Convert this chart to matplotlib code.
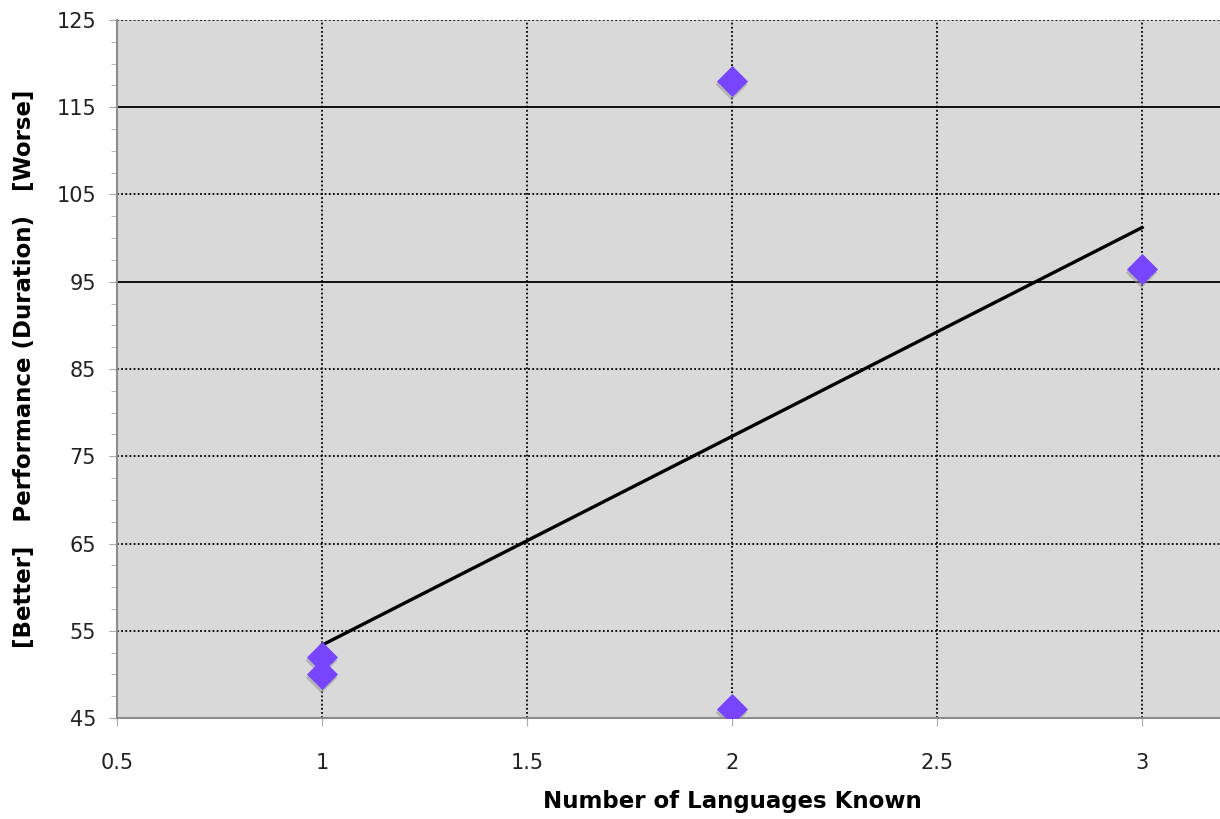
import numpy as np
import matplotlib
matplotlib.use('Agg')
import matplotlib.pyplot as plt
from matplotlib.ticker import MultipleLocator

# languages known vs. duration
langs = [1, 1, 2, 2, 3]
duration = [52, 50, 118, 46, 96.5]

x_ticks = [0.5, 1, 1.5, 2, 2.5, 3]
y_ticks = [45, 55, 65, 75, 85, 95, 105, 115, 125]
solid_lines = [95, 115]

fig = plt.figure(figsize=(12.2, 8.19), dpi=100)
ax = fig.add_axes([0.0959, 0.1233, 0.9041, 0.8523])
ax.set_facecolor('#d9d9d9')

ax.set_xlim(0.5, 3.19)
ax.set_ylim(45, 125)
ax.set_xticks(x_ticks)
ax.set_xticklabels(['0.5', '1', '1.5', '2', '2.5', '3'])
ax.set_yticks(y_ticks)
ax.yaxis.set_minor_locator(MultipleLocator(2.5))

# grid: dotted except two solid horizontal lines
for y in y_ticks:
    if y in solid_lines:
        ax.axhline(y, color='black', lw=1.3, zorder=1)
    else:
        ax.axhline(y, color='black', lw=1.3, ls=(0, (1, 1.3)), zorder=1)
for x in x_ticks[1:]:
    ax.axvline(x, color='black', lw=1.3, ls=(0, (1, 1.3)), zorder=1)

# linear trend line
m, b = np.polyfit(langs, duration, 1)
xs = np.array([min(langs), max(langs)])
ax.plot(xs, m * xs + b, color='black', lw=2.4, zorder=3)

# diamonds with a soft grey shadow
ax.scatter(np.array(langs) - 0.003, np.array(duration) - 0.35, marker='D', s=260,
           color='#8f8f8f', alpha=0.5, lw=0, zorder=4)
ax.scatter(langs, duration, marker='D', s=250, color='#7845ff', lw=0, zorder=5)

for s in ['top', 'right']:
    ax.spines[s].set_visible(False)
for s in ['left', 'bottom']:
    ax.spines[s].set_color('#8c8c8c')
    ax.spines[s].set_linewidth(1.5)

ax.tick_params(axis='both', which='major', length=6, color='#aaaaaa',
               labelsize=15, labelcolor='#222222')
ax.tick_params(axis='y', which='minor', length=4, color='#aaaaaa')
ax.tick_params(axis='y', pad=9)
ax.tick_params(axis='x', pad=19)

ax.set_xlabel('Number of Languages Known', fontsize=16.5, fontweight='bold')
ax.set_ylabel('[Better]   Performance (Duration)   [Worse]', fontsize=16.5,
              fontweight='bold')
ax.xaxis.set_label_coords((2 - 0.5) / (3.19 - 0.5), -0.103)
ax.yaxis.set_label_coords(-0.073, 0.5)

fig.savefig('out.png', dpi=100)
